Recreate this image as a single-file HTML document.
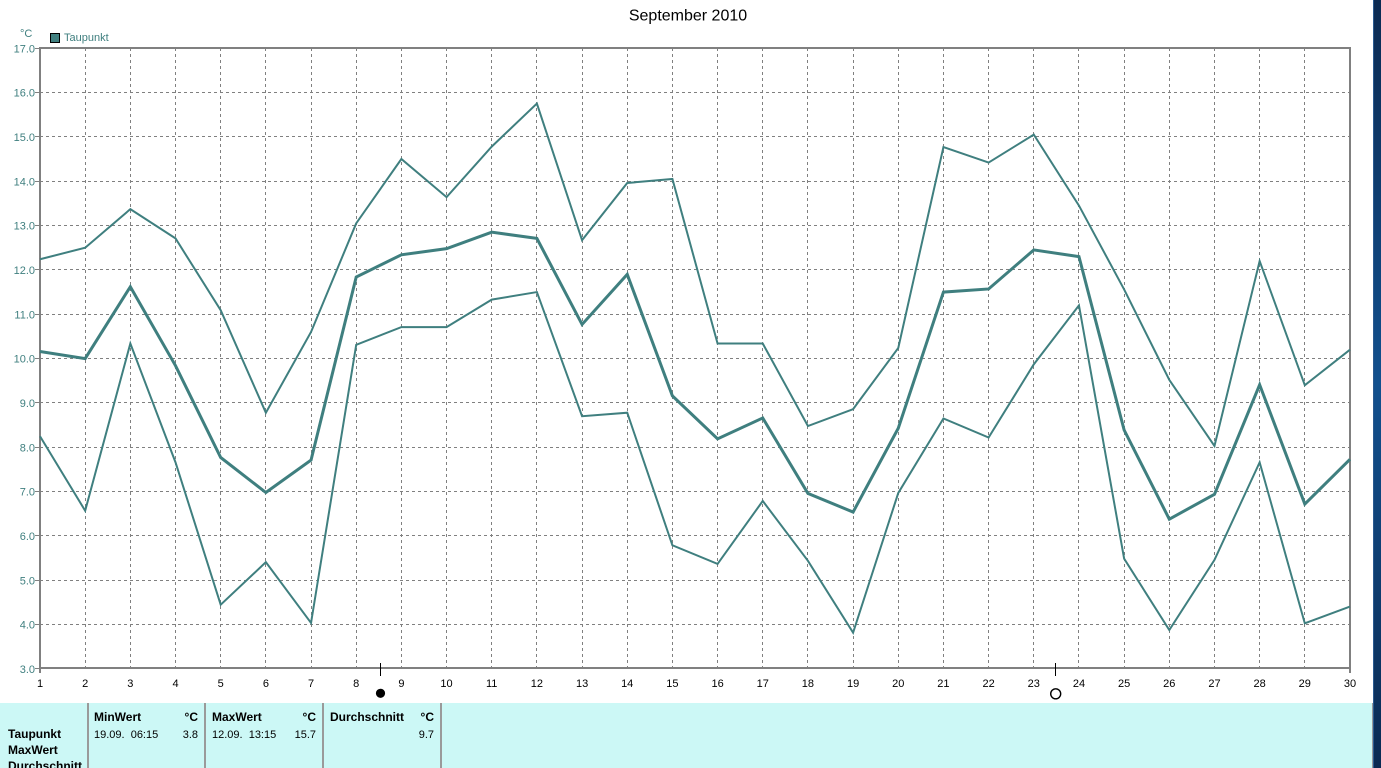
<!DOCTYPE html>
<html><head><meta charset="utf-8">
<style>
html,body{margin:0;padding:0;background:#fff;}
body{width:1381px;height:768px;overflow:hidden;position:relative;}
svg{position:absolute;left:0;top:0;}
text{font-family:"Liberation Sans",Arial,sans-serif;}
</style></head>
<body>
<svg width="1381" height="768" viewBox="0 0 1381 768" xmlns="http://www.w3.org/2000/svg">
<defs>
<linearGradient id="bg" x1="0" y1="0" x2="0" y2="1">
<stop offset="0" stop-color="#0b2a52"/>
<stop offset="0.5" stop-color="#12508e"/>
<stop offset="1" stop-color="#0a2a52"/>
</linearGradient>
</defs>
<rect x="0" y="0" width="1381" height="768" fill="#fff"/>
<!-- title -->
<text x="688" y="20.5" font-size="16" text-anchor="middle" fill="#000">September 2010</text>
<!-- unit + legend -->
<text x="20" y="37" font-size="11" fill="#3f7f7f">°C</text>
<rect x="50.5" y="33.5" width="9" height="9" fill="#408080" stroke="#000" stroke-width="1"/>
<text x="64" y="41" font-size="11" fill="#3f7f7f">Taupunkt</text>

<!-- grid -->
<g stroke="#808080" stroke-width="1" stroke-dasharray="3,3" fill="none">
<path d="M40 92.5H1350M40 136.5H1350M40 181.5H1350M40 225.5H1350M40 269.5H1350M40 314.5H1350M40 358.5H1350M40 402.5H1350M40 447.5H1350M40 491.5H1350M40 535.5H1350M40 580.5H1350M40 624.5H1350"/>
<path d="M85.5 48V668M130.5 48V668M175.5 48V668M220.5 48V668M265.5 48V668M311.5 48V668M356.5 48V668M401.5 48V668M446.5 48V668M491.5 48V668M536.5 48V668M582.5 48V668M627.5 48V668M672.5 48V668M717.5 48V668M762.5 48V668M807.5 48V668M853.5 48V668M898.5 48V668M943.5 48V668M988.5 48V668M1033.5 48V668M1078.5 48V668M1124.5 48V668M1169.5 48V668M1214.5 48V668M1259.5 48V668M1304.5 48V668"/>
</g>
<!-- y ticks -->
<g stroke="#808080" stroke-width="1">
<path d="M35 48.5H40M35 92.5H40M35 136.5H40M35 181.5H40M35 225.5H40M35 269.5H40M35 314.5H40M35 358.5H40M35 402.5H40M35 447.5H40M35 491.5H40M35 535.5H40M35 580.5H40M35 624.5H40M35 668.5H40"/>
</g>
<!-- axes border -->
<rect x="40" y="48" width="1310" height="620" fill="none" stroke="#808080" stroke-width="2"/>
<path d="M40 668V673M1350 668V673" stroke="#808080" stroke-width="2"/>

<!-- y labels -->
<g font-size="11" fill="#3f7f7f" text-anchor="end">
<text x="35" y="52.5">17.0</text>
<text x="35" y="96.5">16.0</text>
<text x="35" y="141">15.0</text>
<text x="35" y="185.5">14.0</text>
<text x="35" y="229.5">13.0</text>
<text x="35" y="274">12.0</text>
<text x="35" y="318.5">11.0</text>
<text x="35" y="362.5">10.0</text>
<text x="35" y="407">9.0</text>
<text x="35" y="451.5">8.0</text>
<text x="35" y="495.5">7.0</text>
<text x="35" y="540">6.0</text>
<text x="35" y="584.5">5.0</text>
<text x="35" y="628.5">4.0</text>
<text x="35" y="673">3.0</text>
</g>
<!-- x labels -->
<g font-size="11" fill="#000" text-anchor="middle">
<text x="40" y="687">1</text><text x="85.2" y="687">2</text><text x="130.3" y="687">3</text><text x="175.5" y="687">4</text><text x="220.7" y="687">5</text><text x="265.9" y="687">6</text><text x="311" y="687">7</text><text x="356.2" y="687">8</text><text x="401.4" y="687">9</text><text x="446.5" y="687">10</text><text x="491.7" y="687">11</text><text x="536.9" y="687">12</text><text x="582.1" y="687">13</text><text x="627.2" y="687">14</text><text x="672.4" y="687">15</text><text x="717.6" y="687">16</text><text x="762.8" y="687">17</text><text x="807.9" y="687">18</text><text x="853.1" y="687">19</text><text x="898.3" y="687">20</text><text x="943.4" y="687">21</text><text x="988.6" y="687">22</text><text x="1033.8" y="687">23</text><text x="1079" y="687">24</text><text x="1124.1" y="687">25</text><text x="1169.3" y="687">26</text><text x="1214.5" y="687">27</text><text x="1259.6" y="687">28</text><text x="1304.8" y="687">29</text><text x="1350" y="687">30</text>
</g>

<!-- series -->
<g transform="translate(40 47.7) scale(45.172 -44.35) translate(-1 -17)" fill="none" stroke="#3f7f7f" stroke-linejoin="miter">
<polyline vector-effect="non-scaling-stroke" stroke-width="2" points="1,12.23 2,12.49 3,13.36 4,12.70 5,11.08 6,8.77 7,10.59 8,13.04 9,14.49 10,13.63 11,14.77 12,15.74 13,12.66 14,13.95 15,14.04 16,10.33 17,10.33 18,8.47 19,8.85 20,10.23 21,14.76 22,14.41 23,15.04 24,13.44 25,11.55 26,9.51 27,8.02 28,12.19 29,9.39 30,10.19"/>
<polyline vector-effect="non-scaling-stroke" stroke-width="3" points="1,10.15 2,9.99 3,11.61 4,9.83 5,7.76 6,6.97 7,7.70 8,11.83 9,12.33 10,12.47 11,12.84 12,12.70 13,10.76 14,11.89 15,9.15 16,8.18 17,8.65 18,6.95 19,6.53 20,8.42 21,11.49 22,11.56 23,12.44 24,12.29 25,8.38 26,6.37 27,6.93 28,9.40 29,6.71 30,7.72"/>
<polyline vector-effect="non-scaling-stroke" stroke-width="2" points="1,8.24 2,6.56 3,10.33 4,7.65 5,4.44 6,5.40 7,4.03 8,10.30 9,10.70 10,10.70 11,11.32 12,11.49 13,8.69 14,8.77 15,5.78 16,5.36 17,6.78 18,5.43 19,3.81 20,6.96 21,8.64 22,8.21 23,9.86 24,11.19 25,5.48 26,3.87 27,5.45 28,7.65 29,4.02 30,4.40"/>
</g>

<!-- moon markers -->
<path d="M380.5 663V676M1055.5 663V676" stroke="#000" stroke-width="1"/>
<circle cx="380.5" cy="693.3" r="4.6" fill="#000"/>
<circle cx="1055.7" cy="693.8" r="5" fill="none" stroke="#000" stroke-width="1.4"/>

<!-- bottom table -->
<rect x="0" y="703" width="1372" height="65" fill="#ccf8f6"/>
<g fill="#9a9a9a">
<rect x="87" y="703" width="2" height="65"/>
<rect x="204" y="703" width="2" height="65"/>
<rect x="322" y="703" width="2" height="65"/>
<rect x="440" y="703" width="2" height="65"/>
<rect x="1372" y="703" width="1" height="65"/>
</g>
<g font-size="12" font-weight="bold" fill="#000">
<text x="8" y="738">Taupunkt</text>
<text x="8" y="754">MaxWert</text>
<text x="8" y="770">Durchschnitt</text>
<text x="94" y="721">MinWert</text>
<text x="198" y="721" text-anchor="end">°C</text>
<text x="212" y="721">MaxWert</text>
<text x="316" y="721" text-anchor="end">°C</text>
<text x="330" y="721">Durchschnitt</text>
<text x="434" y="721" text-anchor="end">°C</text>
</g>
<g font-size="11" fill="#000">
<text x="94" y="738" xml:space="preserve">19.09.  06:15</text>
<text x="198" y="738" text-anchor="end">3.8</text>
<text x="212" y="738" xml:space="preserve">12.09.  13:15</text>
<text x="316" y="738" text-anchor="end">15.7</text>
<text x="434" y="738" text-anchor="end">9.7</text>
</g>

<!-- right desktop strip -->
<rect x="1373" y="0" width="8" height="768" fill="url(#bg)"/>
<rect x="1373" y="0" width="1" height="768" fill="#2a5a90"/>
</svg>
</body></html>
